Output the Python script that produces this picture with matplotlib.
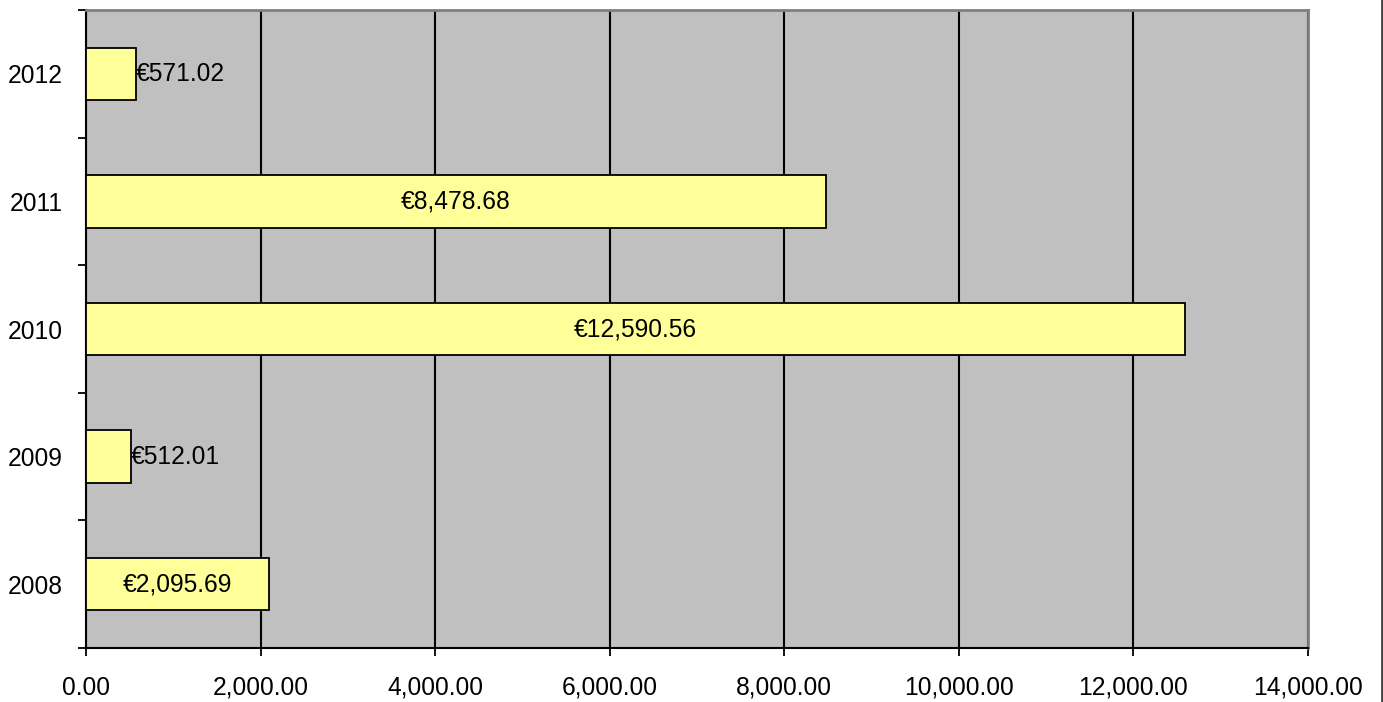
import matplotlib
matplotlib.use('Agg')
import matplotlib.pyplot as plt
from matplotlib.lines import Line2D
import numpy as np

plt.rcParams['font.family'] = ['Liberation Sans', 'DejaVu Sans']

years = ['2008', '2009', '2010', '2011', '2012']
amounts = [2095.69, 512.01, 12590.56, 8478.68, 571.02]
xTicks = [0, 2000, 4000, 6000, 8000, 10000, 12000, 14000]

fs = 17.7
W, H = 1383, 702
fig = plt.figure(figsize=(W / 100, H / 100), dpi=100)
ax = fig.add_axes([86 / W, (H - 648) / H, (1308 - 86) / W, (648 - 10) / H])

ax.set_facecolor('#C0C0C0')
pos = np.arange(len(years))
ax.barh(pos, amounts, height=0.41, color='#FFFF99', edgecolor='black', linewidth=1.3, zorder=3)

ax.set_xlim(0, 14000)
ax.set_ylim(-0.5, len(years) - 0.5)
ax.set_xticks(xTicks)
ax.set_xticklabels([f'{v:,.2f}' for v in xTicks], fontsize=fs)
ax.xaxis.grid(True, color='black', linewidth=1.5, zorder=1)
ax.set_axisbelow(True)

# category labels between boundary ticks
ax.set_yticks(np.arange(-0.5, len(years), 1.0))
ax.set_yticklabels([])
ax.set_yticks(pos, minor=True)
ax.set_yticklabels(years, minor=True, fontsize=fs)
ax.tick_params(axis='y', which='minor', length=0, pad=17)
ax.tick_params(axis='y', which='major', length=6, width=1.3, direction='out')
ax.tick_params(axis='x', length=6, width=1.3, direction='out', pad=14)

for side in ['left', 'bottom']:
    ax.spines[side].set_color('black')
    ax.spines[side].set_linewidth(1.5)
for side in ['top', 'right']:
    ax.spines[side].set_color('#808080')
    ax.spines[side].set_linewidth(2)

# value labels
for p, v in zip(pos, amounts):
    label = f'€{v:,.2f}'
    if v > 1500:
        ax.text(v / 2, p, label, ha='center', va='center', fontsize=fs, zorder=4)
    else:
        ax.text(v, p, label, ha='left', va='center', fontsize=fs, zorder=4)

fig.add_artist(Line2D([1381.5 / W, 1381.5 / W], [0, 1], color='#404040', linewidth=2, transform=fig.transFigure))

fig.savefig('out.png', dpi=100)
